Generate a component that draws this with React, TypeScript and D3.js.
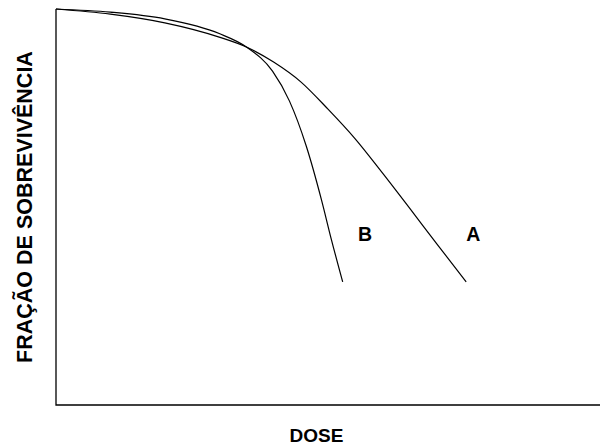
import { useEffect, useRef } from "react";
import * as d3 from "d3";

// dose (arbitrary units) and survival fraction
const doseA = [0, 1, 2, 3, 3.5, 4, 4.5, 5, 5.5, 6, 6.5, 7, 7.54];
const survA = [1.0, 0.987, 0.965, 0.929, 0.904, 0.866, 0.816, 0.747, 0.672, 0.586, 0.497, 0.407, 0.311];

const doseB = [0, 1, 2, 3, 3.5, 3.98, 4.29, 4.6, 4.88, 5.06, 5.27];
const survB = [1.0, 0.992, 0.975, 0.938, 0.904, 0.843, 0.768, 0.654, 0.518, 0.419, 0.311];

const curveLabels = ["A", "B"];
const labelDose = [7.67, 5.68];
const labelSurv = [0.432, 0.432];

const FONT = "'Liberation Sans', Arial, sans-serif";

export default function App() {
  const ref = useRef<SVGSVGElement>(null);

  useEffect(() => {
    const width = 602;
    const height = 446;
    const margin = { top: 9, right: 2, bottom: 41, left: 56 };
    const svg = d3.select(ref.current);
    svg.selectAll("*").remove();

    const x = d3.scaleLinear().domain([0, 10]).range([margin.left, width - margin.right]);
    const y = d3.scaleLinear().domain([0, 1]).range([height - margin.bottom, margin.top]);

    // axes: plain lines, no ticks
    svg.append("path")
      .attr("d", `M${x(0)},${y(1)}V${y(0)}H${x(10)}`)
      .attr("fill", "none")
      .attr("stroke", "#000")
      .attr("stroke-width", 1.3);

    const line = d3.line<[number, number]>()
      .x(d => x(d[0]))
      .y(d => y(d[1]))
      .curve(d3.curveMonotoneX);

    const series = [
      doseA.map((d, i) => [d, survA[i]] as [number, number]),
      doseB.map((d, i) => [d, survB[i]] as [number, number]),
    ];
    series.forEach(s => {
      svg.append("path")
        .attr("d", line(s))
        .attr("fill", "none")
        .attr("stroke", "#000")
        .attr("stroke-width", 1.2);
    });

    curveLabels.forEach((t, i) => {
      svg.append("text")
        .attr("x", x(labelDose[i]))
        .attr("y", y(labelSurv[i]))
        .attr("text-anchor", "middle")
        .attr("dominant-baseline", "central")
        .attr("font-family", FONT)
        .attr("font-weight", "bold")
        .attr("font-size", 19.5)
        .text(t);
    });

    svg.append("text")
      .attr("x", 316.5)
      .attr("y", 442)
      .attr("text-anchor", "middle")
      .attr("font-family", FONT)
      .attr("font-weight", "bold")
      .attr("font-size", 19)
      .text("DOSE");

    svg.append("text")
      .attr("transform", "translate(25,207) rotate(-90)")
      .attr("text-anchor", "middle")
      .attr("dominant-baseline", "central")
      .attr("font-family", FONT)
      .attr("font-weight", "bold")
      .attr("font-size", 21.5)
      .text("FRAÇÃO DE SOBREVIVÊNCIA");
  }, []);

  return (
    <svg
      ref={ref}
      width={602}
      height={446}
      style={{ position: "absolute", left: 0, top: 0, background: "#fff" }}
    />
  );
}
